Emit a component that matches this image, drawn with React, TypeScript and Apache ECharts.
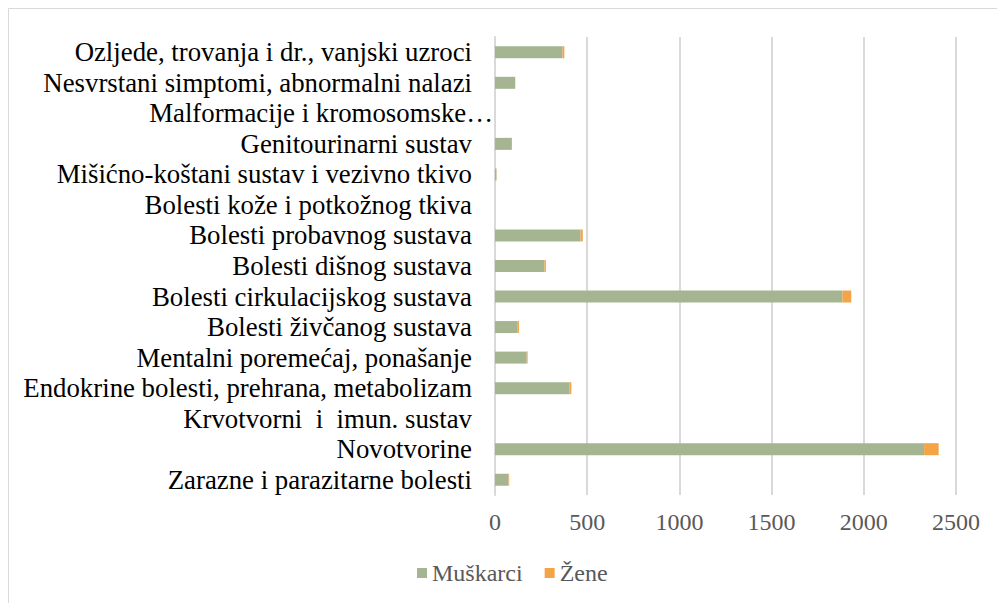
import React, { useEffect, useRef } from "react";
import * as echarts from "echarts";

const categories = [
  "Zarazne i parazitarne bolesti",
  "Novotvorine",
  "Krvotvorni  i  imun. sustav",
  "Endokrine bolesti, prehrana, metabolizam",
  "Mentalni poremećaj, ponašanje",
  "Bolesti živčanog sustava",
  "Bolesti cirkulacijskog sustava",
  "Bolesti dišnog sustava",
  "Bolesti probavnog sustava",
  "Bolesti kože i potkožnog tkiva",
  "Mišićno-koštani sustav i vezivno tkivo",
  "Genitourinarni sustav",
  "Malformacije i kromosomske…",
  "Nesvrstani simptomi, abnormalni nalazi",
  "Ozljede, trovanja i dr., vanjski uzroci",
];
const muskarci = [73, 2327, 0, 403, 172, 123, 1884, 268, 464, 0, 8, 87, 0, 109, 366];
const zene = [4, 79, 0, 11, 5, 7, 48, 8, 12, 0, 1, 5, 0, 1, 10];
const seriesNames = ["Muškarci", "Žene"];
const xTicks = { min: 0, max: 2500, interval: 500 };

export default function App() {
  const ref = useRef<HTMLDivElement>(null);
  useEffect(() => {
    if (!ref.current) return;
    const chart = echarts.init(ref.current, null, { renderer: "svg" });
    const font = "'Liberation Serif', 'Times New Roman', serif";
    chart.setOption({
      animation: false,
      textStyle: { fontFamily: font },
      graphic: [
        {
          type: "rect",
          shape: { x: 8.5, y: 8.5, width: 1000, height: 600 },
          style: { fill: "none", stroke: "#d9d9d9", lineWidth: 1 },
          silent: true,
        },
      ],
      grid: { left: 495, right: 41, top: 37, bottom: 108, containLabel: false },
      legend: {
        data: seriesNames,
        bottom: 13,
        left: 412,
        itemWidth: 10,
        itemHeight: 10,
        itemGap: 22,
        icon: "rect",
        textStyle: { fontFamily: font, fontSize: 24, color: "#595959" },
      },
      xAxis: {
        type: "value",
        min: xTicks.min,
        max: xTicks.max,
        interval: xTicks.interval,
        axisLine: { show: false },
        axisTick: { show: false },
        splitLine: { show: true, lineStyle: { color: "#d9d9d9", width: 2 } },
        axisLabel: {
          fontFamily: font,
          fontSize: 24,
          color: "#595959",
          margin: 15,
          formatter: (v: number) => String(v),
        },
      },
      yAxis: {
        type: "category",
        data: categories,
        axisLine: { show: true, lineStyle: { color: "#d9d9d9", width: 2 } },
        axisTick: { show: false },
        axisLabel: {
          interval: 0,
          hideOverlap: false,
          fontFamily: font,
          fontSize: 26.8,
          color: "#000000",
          margin: 2,
          formatter: (v: string) =>
            v.indexOf("…") >= 0 ? "{m|" + v + "}" : "{n|" + v + "}",
          rich: {
            n: { fontFamily: font, fontSize: 26.8, color: "#000", padding: [0, 21, 0, 0] },
            m: { fontFamily: font, fontSize: 26.8, color: "#000", padding: [0, 0, 0, 0] },
          },
        },
      },
      series: [
        {
          name: seriesNames[0],
          type: "bar",
          stack: "total",
          data: muskarci,
          barWidth: 12,
          itemStyle: { color: "#a5b592" },
        },
        {
          name: seriesNames[1],
          type: "bar",
          stack: "total",
          data: zene,
          barWidth: 12,
          itemStyle: { color: "#f3a447" },
        },
      ],
    });
    return () => chart.dispose();
  }, []);
  return (
    <div
      ref={ref}
      style={{ position: "fixed", left: 0, top: 0, width: 997, height: 603, background: "#fff" }}
    />
  );
}
